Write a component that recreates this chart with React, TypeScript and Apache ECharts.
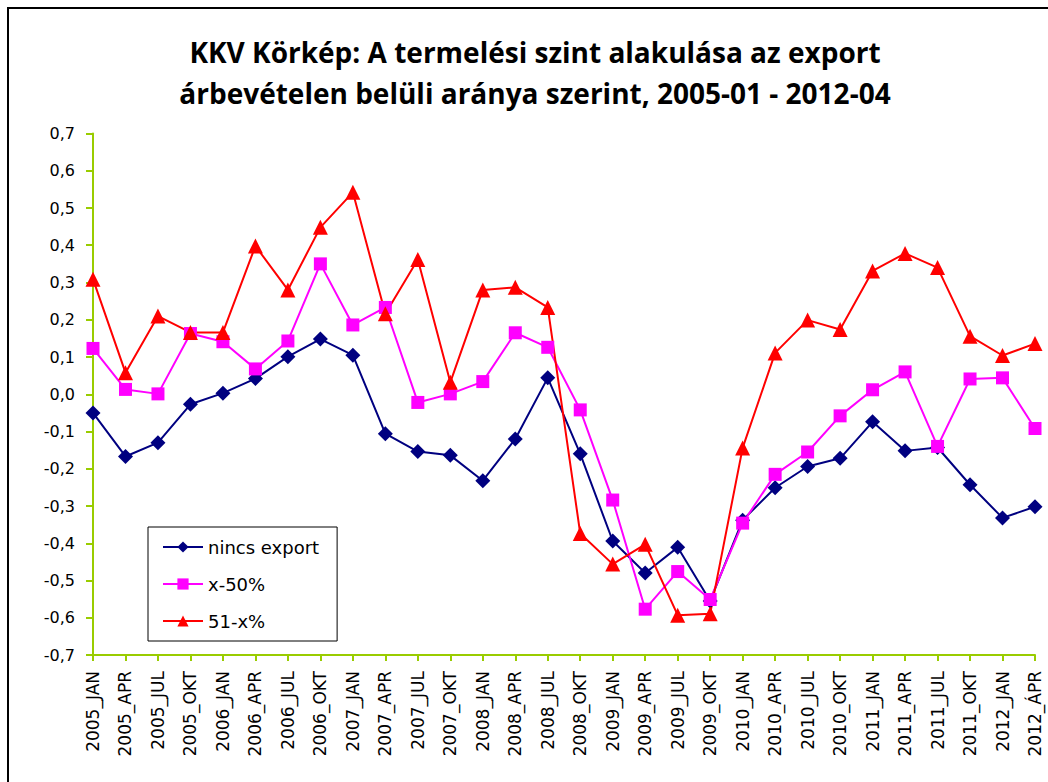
import React, { useEffect, useRef } from "react";
import * as echarts from "echarts";

const categories = [
  "2005_JAN", "2005_APR", "2005_JUL", "2005_OKT",
  "2006_JAN", "2006_APR", "2006_JUL", "2006_OKT",
  "2007_JAN", "2007_APR", "2007_JUL", "2007_OKT",
  "2008_JAN", "2008_APR", "2008_JUL", "2008_OKT",
  "2009_JAN", "2009_APR", "2009_JUL", "2009_OKT",
  "2010_JAN", "2010_APR", "2010_JUL", "2010_OKT",
  "2011_JAN", "2011_APR", "2011_JUL", "2011_OKT",
  "2012_JAN", "2012_ÁPR",
];

const nincsExport = [
  -0.05, -0.167, -0.13, -0.027,
  0.003, 0.042, 0.101, 0.148,
  0.105, -0.106, -0.154, -0.164,
  -0.232, -0.12, 0.044, -0.16,
  -0.394, -0.48, -0.411, -0.555,
  -0.338, -0.251, -0.194, -0.172,
  -0.074, -0.152, -0.143, -0.243,
  -0.332, -0.302,
];

const x50 = [
  0.123, 0.013, 0.001, 0.163,
  0.141, 0.068, 0.143, 0.35,
  0.186, 0.233, -0.022, 0.001,
  0.034, 0.165, 0.126, -0.042,
  -0.284, -0.577, -0.476, -0.551,
  -0.346, -0.215, -0.155, -0.058,
  0.012, 0.06, -0.14, 0.041,
  0.044, -0.092,
];

const x51 = [
  0.309, 0.058, 0.21, 0.166,
  0.166, 0.398, 0.28, 0.448,
  0.542, 0.216, 0.362, 0.032,
  0.28, 0.287, 0.233, -0.374,
  -0.456, -0.403, -0.593, -0.589,
  -0.144, 0.111, 0.199, 0.174,
  0.331, 0.378, 0.34, 0.156,
  0.104, 0.136,
];

const seriesNames = ["nincs export", "x-50%", "51-x%"];
const titleLines = [
  "KKV Körkép: A termelési szint alakulása az export",
  "árbevételen belüli aránya szerint, 2005-01 - 2012-04",
];

const AXIS_COLOR = "#99CC00";
const LABEL_FONT = "'DejaVu Sans', Verdana, sans-serif";
const TITLE_FONT = "'Open Sans', 'Noto Sans', sans-serif";

export default function App() {
  const ref = useRef<HTMLDivElement>(null);

  useEffect(() => {
    document.body.style.margin = "0";
    if (!ref.current) return;
    const chart = echarts.init(ref.current, null, { renderer: "svg" });
    chart.setOption({
      animation: false,
      backgroundColor: "#ffffff",
      graphic: [
        {
          type: "rect",
          shape: { x: 8, y: 8, width: 1100, height: 900 },
          style: { fill: "none", stroke: "#000", lineWidth: 2 },
          silent: true,
        },
        {
          type: "text",
          x: 535,
          y: 52,
          style: {
            text: titleLines[0],
            textAlign: "center",
            textVerticalAlign: "middle",
            font: `bold 28px ${TITLE_FONT}`,
            fill: "#000",
          },
        },
        {
          type: "text",
          x: 535,
          y: 93,
          style: {
            text: titleLines[1],
            textAlign: "center",
            textVerticalAlign: "middle",
            font: `bold 28px ${TITLE_FONT}`,
            fill: "#000",
          },
        },
      ],
      legend: {
        orient: "vertical",
        left: 148,
        top: 527,
        borderColor: "#000",
        borderWidth: 1,
        borderRadius: 0,
        padding: [11, 18, 11, 14],
        itemGap: 19,
        itemWidth: 40,
        itemHeight: 14,
        textStyle: { fontSize: 18, fontFamily: LABEL_FONT, color: "#000" },
        data: seriesNames,
      },
      grid: { left: 93, right: 13, top: 133.5, bottom: 127 },
      xAxis: {
        type: "category",
        data: categories,
        boundaryGap: false,
        axisLine: { onZero: false, lineStyle: { color: AXIS_COLOR, width: 2 } },
        axisTick: { show: true, inside: false, length: 6, interval: 0, lineStyle: { color: AXIS_COLOR, width: 2 } },
        axisLabel: {
          interval: 0,
          rotate: 90,
          margin: 16,
          fontSize: 17,
          fontFamily: LABEL_FONT,
          color: "#000",
        },
        splitLine: { show: false },
      },
      yAxis: {
        type: "value",
        min: -0.7,
        max: 0.7,
        interval: 0.1,
        axisLine: { show: true, lineStyle: { color: AXIS_COLOR, width: 2 } },
        axisTick: { show: true, inside: false, length: 7, lineStyle: { color: AXIS_COLOR, width: 2 } },
        axisLabel: {
          margin: 18,
          fontSize: 16,
          fontFamily: LABEL_FONT,
          color: "#000",
          formatter: (v: number) => v.toFixed(1).replace("-0.0", "0.0").replace(".", ","),
        },
        splitLine: { show: false },
      },
      series: [
        {
          name: seriesNames[0],
          type: "line",
          data: nincsExport,
          symbol: "diamond",
          symbolSize: 15,
          color: "#000080",
          lineStyle: { color: "#000080", width: 2 },
          itemStyle: { color: "#000080" },
        },
        {
          name: seriesNames[1],
          type: "line",
          data: x50,
          symbol: "rect",
          symbolSize: 13,
          color: "#FF00FF",
          lineStyle: { color: "#FF00FF", width: 2 },
          itemStyle: { color: "#FF00FF" },
        },
        {
          name: seriesNames[2],
          type: "line",
          data: x51,
          symbol: "triangle",
          symbolSize: 15,
          color: "#FF0000",
          lineStyle: { color: "#FF0000", width: 2 },
          itemStyle: { color: "#FF0000" },
        },
      ],
    });
    return () => chart.dispose();
  }, []);

  return <div ref={ref} style={{ width: 1048, height: 782 }} />;
}
